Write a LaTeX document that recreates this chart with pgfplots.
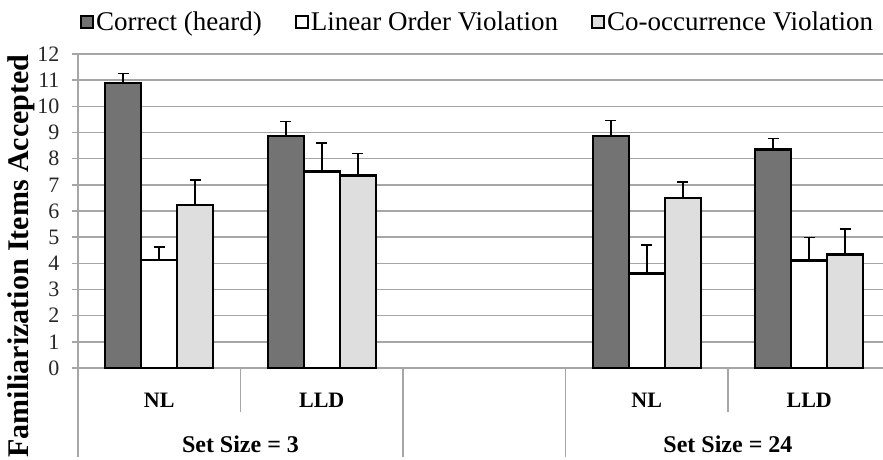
\documentclass[border=0pt]{standalone}
\usepackage{fontspec}
\setmainfont{Liberation Serif}
\usepackage{pgfplots}
\pgfplotsset{compat=1.18}
\definecolor{darkbar}{HTML}{737373}
\definecolor{lightbar}{HTML}{DEDEDE}
\definecolor{gridc}{HTML}{A6A6A6}
\begin{document}
\begin{tikzpicture}
\begin{axis}[
  scale only axis,
  width=805bp, height=314bp,
  xmin=-0.5, xmax=4.454,
  ymin=0, ymax=12,
  ytick={0,1,...,12},
  xtick=\empty,
  ymajorgrids,
  grid style={gridc, line width=1.5bp},
  axis x line=bottom, axis y line=left,
  axis line style={gridc, line width=1.5bp, -},
  major tick length=6bp,
  tick align=outside,
  ytick style={gridc, line width=1.5bp},
  /pgf/number format/assume math mode=true,
  yticklabel style={font=\fontsize{22bp}{24bp}\selectfont, text=black!85, xshift=-9bp},
  ybar=0pt,
  bar width=36bp,
  clip=false,
  legend columns=3,
  legend style={at={(axis cs:-0.5,12)}, anchor=south west, xshift=2bp, yshift=22bp,
    draw=none, fill=none, inner sep=0pt,
    font=\fontsize{27bp}{30bp}\selectfont,
    nodes={inner xsep=2bp, inner ysep=0pt},
    /tikz/every even column/.append style={column sep=31bp}},
  legend image code/.code={\draw[#1, draw=black, line width=2bp] (1bp,-6bp) rectangle (13bp,6bp);},
  error bars/y dir=plus,
  error bars/y explicit,
  error bars/error bar style={line width=1.6bp, black},
  error bars/error mark options={rotate=90, mark size=5.5bp, line width=1.6bp, black},
]
\addplot[fill=darkbar, draw=black, line width=2.2bp] coordinates {
  (0,10.90) +- (0,0.36)
  (1,8.87) +- (0,0.55)
  (3,8.87) +- (0,0.59)
  (4,8.35) +- (0,0.42)
};
\addlegendentry{Correct (heard)}
\addplot[fill=white, draw=black, line width=2.2bp] coordinates {
  (0,4.14) +- (0,0.48)
  (1,7.51) +- (0,1.10)
  (3,3.61) +- (0,1.10)
  (4,4.11) +- (0,0.88)
};
\addlegendentry{Linear Order Violation}
\addplot[fill=lightbar, draw=black, line width=2.2bp] coordinates {
  (0,6.23) +- (0,0.95)
  (1,7.36) +- (0,0.84)
  (3,6.50) +- (0,0.60)
  (4,4.34) +- (0,0.97)
};
\addlegendentry{Co-occurrence Violation}
% category separators
\draw[gridc, line width=1.5bp] (axis cs:-0.5,0) -- (axis cs:-0.5,-3.40);
\draw[gridc, line width=1.5bp] (axis cs:0.5,0) -- (axis cs:0.5,-1.68);
\draw[gridc, line width=1.5bp] (axis cs:1.5,0) -- (axis cs:1.5,-3.40);
\draw[gridc, line width=1.5bp] (axis cs:2.5,0) -- (axis cs:2.5,-3.40);
\draw[gridc, line width=1.5bp] (axis cs:3.5,0) -- (axis cs:3.5,-1.68);
% category labels
\node[font=\fontsize{22bp}{24bp}\selectfont\bfseries] at (axis cs:0,-1.22) {NL};
\node[font=\fontsize{22bp}{24bp}\selectfont\bfseries] at (axis cs:1,-1.22) {LLD};
\node[font=\fontsize{22bp}{24bp}\selectfont\bfseries] at (axis cs:3,-1.22) {NL};
\node[font=\fontsize{22bp}{24bp}\selectfont\bfseries] at (axis cs:4,-1.22) {LLD};
\node[font=\fontsize{24bp}{26bp}\selectfont\bfseries] at (axis cs:0.5,-2.92) {Set Size = 3};
\node[font=\fontsize{24bp}{26bp}\selectfont\bfseries] at (axis cs:3.5,-2.92) {Set Size = 24};
% y label
\node[font=\fontsize{30bp}{32bp}\selectfont\bfseries, rotate=90] at (axis cs:-0.85,4.28) {Familiarization Items Accepted};
\coordinate (O) at (rel axis cs:0,0);
\end{axis}
\pgfresetboundingbox
\path[use as bounding box] ([shift={(-78bp,-92bp)}]O) rectangle ([shift={(805bp,368bp)}]O);
\end{tikzpicture}
\end{document}
